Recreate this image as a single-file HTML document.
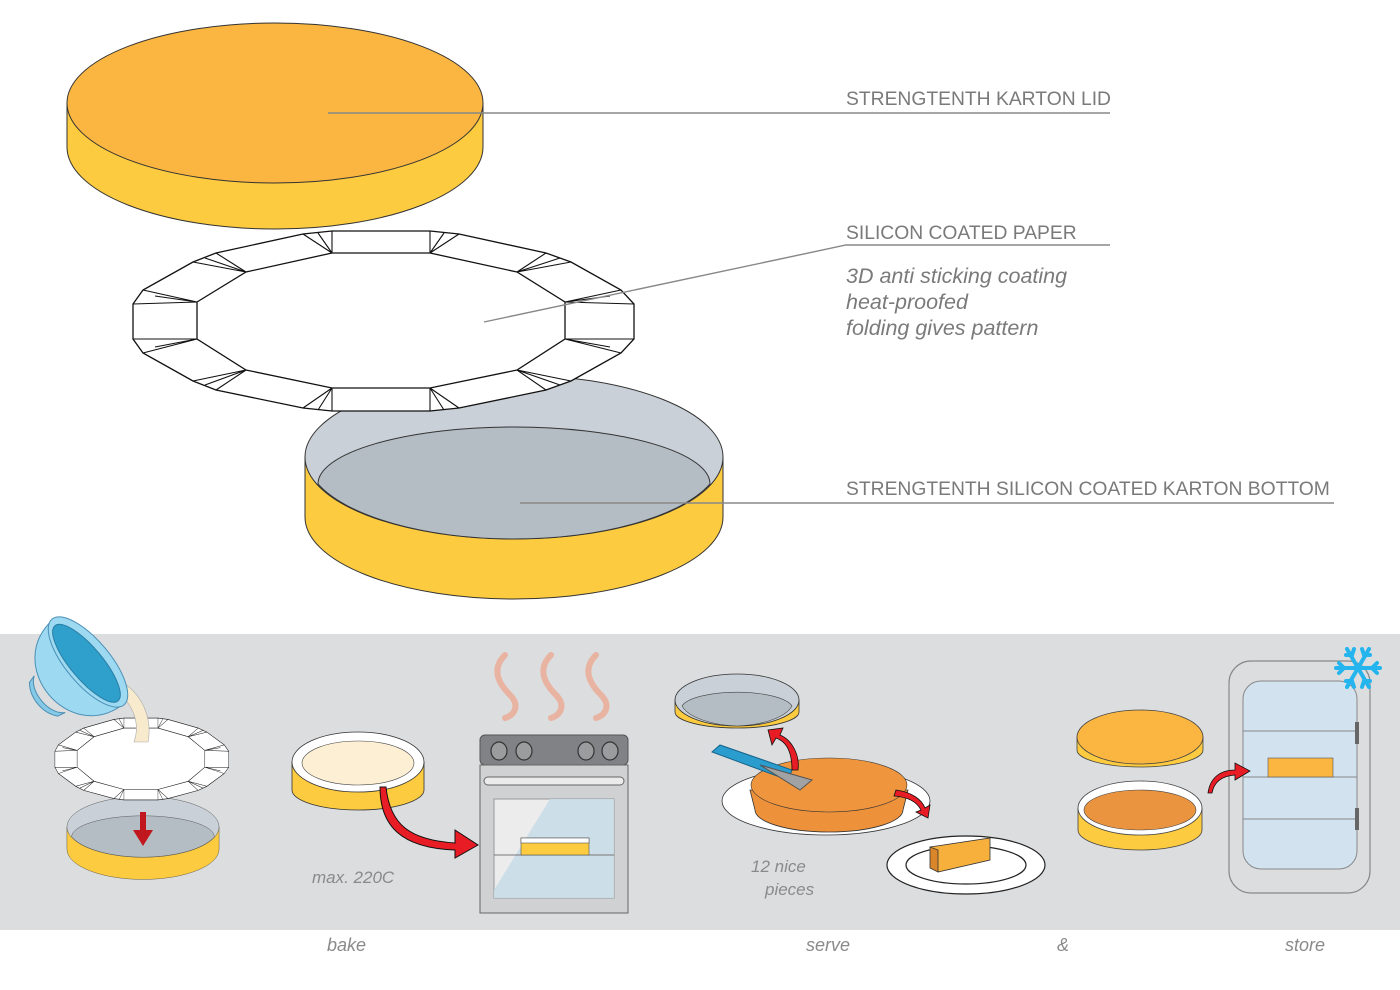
<!DOCTYPE html>
<html><head><meta charset="utf-8"><style>
html,body{margin:0;padding:0;background:#fff;}
svg{display:block;}
text{font-family:"Liberation Sans",sans-serif;}
</style></head><body>
<svg width="1400" height="990" viewBox="0 0 1400 990" xmlns="http://www.w3.org/2000/svg">
<defs>
<g id="paper">
<polygon points="133,304 143,290 193,262 216,253 303,234 332,231 430,231 459,234 546,253 571,262 621,290 634,304 634,339 621,353 571,381 546,390 459,408 430,411 332,411 303,408 216,390 193,381 143,353 133,339" fill="#fff" stroke="#111" stroke-width="1.3"/>
<polygon points="197,302 246,272 332,253 430,253 517,272 565,302 565,339 517,370 430,388 332,388 246,370 197,339" fill="#fff" stroke="#111" stroke-width="1.3"/>
<g stroke="#111" stroke-width="1.1" fill="none">
<path d="M133,304 L197,302 M133,339 L197,339 M634,304 L565,302 M634,339 L565,339 M332,231 L332,253 M430,231 L430,253 M332,411 L332,388 M430,411 L430,388"/>
<path d="M143,290 L197,302 M155,296 L197,302 M143,353 L197,339 M155,347 L197,339 M621,290 L565,302 M610,296 L565,302 M621,353 L565,339 M610,347 L565,339"/>
<path d="M193,262 L246,272 M205,258 L246,272 M216,253 L246,272 M571,262 L517,272 M560,258 L517,272 M546,253 L517,272 M193,381 L246,370 M205,385 L246,370 M216,390 L246,370 M571,381 L517,370 M560,385 L517,370 M546,390 L517,370"/>
<path d="M303,234 L332,253 M318,233 L332,253 M459,234 L430,253 M444,233 L430,253 M303,408 L332,388 M318,410 L332,388 M459,408 L430,388 M444,410 L430,388"/>
</g>
</g>
<g id="lid">
<path d="M67,103 L67,147 A208,82 0 0 0 483,147 L483,103 Z" fill="#fccb3f" stroke="#333" stroke-width="1"/>
<ellipse cx="275" cy="103" rx="208" ry="80" fill="#fbb641" stroke="#333" stroke-width="1"/>
</g>
<g id="tray">
<path d="M305,457 L305,517 A209,82 0 0 0 723,517 L723,457 Z" fill="#fccb3f" stroke="#333" stroke-width="1"/>
<ellipse cx="514" cy="457" rx="209" ry="82" fill="#c9d0d7" stroke="#333" stroke-width="1"/>
<path d="M318,484 A196,57 0 0 1 710,484 A209,82 0 0 1 514,539 A209,82 0 0 1 318,484 Z" fill="#b4bcc4" stroke="#333" stroke-width="1"/>
</g>
</defs>

<use href="#lid"/>
<use href="#tray"/>
<use href="#paper"/>

<g stroke="#888" stroke-width="1.4" fill="none">
<path d="M328,113 L1110,113"/>
<path d="M484,322 L846,245 L1110,245"/>
<path d="M520,503 L1334,503"/>
</g>
<g fill="#7a7a7a" font-size="19.3">
<text x="846" y="105">STRENGTENTH KARTON LID</text>
<text x="846" y="239">SILICON COATED PAPER</text>
<text x="846" y="283" font-style="italic" font-size="21.5">3D anti sticking coating</text>
<text x="846" y="309" font-style="italic" font-size="21.5">heat-proofed</text>
<text x="846" y="335" font-style="italic" font-size="21.5">folding gives pattern</text>
<text x="846" y="495">STRENGTENTH SILICON COATED KARTON BOTTOM</text>
</g>

<rect x="0" y="634" width="1400" height="296" fill="#dcdddf"/>

<!-- step 1 -->
<g transform="translate(143,838) scale(0.364,0.37) translate(-514,-487)"><use href="#tray"/></g>
<g transform="translate(142,759) scale(0.347,0.455) translate(-384,-321)"><use href="#paper"/></g>
<path d="M140,812 L146,812 L146,830 L153,830 L143,846 L133,830 L140,830 Z" fill="#c0181e"/>
<path d="M115,690 C135,705 140,725 134,742 L148,742 C152,722 145,698 125,684 Z" fill="#f8ebcd" stroke="#aaa" stroke-width="0.6"/>
<g transform="translate(88,662) rotate(50)">
<path d="M-55,0 C-52,68 52,68 55,0 Z" fill="#9ed9f2" stroke="#4a90b5" stroke-width="1"/>
<path d="M-24,50 C-16,64 16,64 24,50 L22,58 C10,68 -10,68 -22,58 Z" fill="#86c9e6" stroke="#4a90b5"/>
<ellipse cx="0" cy="0" rx="56" ry="22" fill="#9ed9f2" stroke="#4a90b5"/>
<ellipse cx="0" cy="2" rx="49" ry="16" fill="#2fa0cc" stroke="#2a7ea5"/>
</g>

<!-- step 2 -->
<path d="M292,762 L292,790 A66,20 0 0 0 424,790 L424,762 Z" fill="#fccb3f" stroke="#333" stroke-width="0.8"/>
<ellipse cx="358" cy="762" rx="66" ry="30" fill="#fff" stroke="#333" stroke-width="0.8"/>
<ellipse cx="358" cy="763" rx="56" ry="22" fill="#fdefd3" stroke="#444" stroke-width="0.6"/>
<path d="M386,787 C390,825 410,840 455,843 L455,830 L478,845 L455,858 L455,850 C400,848 380,825 380,787 Z" fill="#e81c24" stroke="#111" stroke-width="1"/>
<text x="312" y="883" font-size="17" font-style="italic" fill="#8a8a8a">max. 220C</text>
<g fill="none" stroke="#e8b3a0" stroke-width="6" stroke-linecap="round">
<path d="M505,655 C490,670 500,685 510,695 C520,705 515,715 505,718"/>
<path d="M551,655 C536,670 546,685 556,695 C566,705 561,715 551,718"/>
<path d="M596,655 C581,670 591,685 601,695 C611,705 606,715 596,718"/>
</g>
<rect x="480" y="735" width="148" height="30" rx="5" fill="#808285" stroke="#555"/>
<rect x="480" y="765" width="148" height="148" fill="#cfd1d3" stroke="#666"/>
<g fill="#9a9c9e" stroke="#333" stroke-width="1.2">
<ellipse cx="499" cy="751" rx="8" ry="9"/><ellipse cx="524" cy="751" rx="8" ry="9"/>
<ellipse cx="586" cy="751" rx="8" ry="9"/><ellipse cx="610" cy="751" rx="8" ry="9"/>
</g>
<rect x="484" y="777" width="140" height="8" rx="4" fill="#ebebeb" stroke="#666"/>
<rect x="494" y="799" width="120" height="99" fill="#ececec" stroke="#999"/>
<polygon points="550,799 614,799 614,898 494,898 494,890" fill="#c9dde8" opacity="0.9"/>
<line x1="494" y1="855" x2="614" y2="855" stroke="#777"/>
<rect x="521" y="838" width="68" height="17" fill="#fccb3f" stroke="#555" stroke-width="0.6"/>
<rect x="521" y="838" width="68" height="5" fill="#fff" stroke="#555" stroke-width="0.6"/>

<!-- step 3 serve -->
<path d="M675,700 L675,712 A62,16 0 0 0 799,712 L799,700 Z" fill="#fccb3f" stroke="#333" stroke-width="0.8"/>
<ellipse cx="737" cy="700" rx="62" ry="26" fill="#c9d0d7" stroke="#333" stroke-width="0.8"/>
<path d="M682,706 A56,17 0 0 1 792,706 A62,26 0 0 1 737,726 A62,26 0 0 1 682,706 Z" fill="#b4bcc4" stroke="#444" stroke-width="0.6"/>
<ellipse cx="826" cy="801" rx="104" ry="34" fill="#fff" stroke="#333" stroke-width="0.8"/>
<path d="M750,790 L755,810 A74,22 0 0 0 903,810 L908,790 Z" fill="#ed913a" stroke="#333" stroke-width="0.8"/>
<ellipse cx="829" cy="785" rx="78" ry="27" fill="#ee953e" stroke="#333" stroke-width="0.6"/>
<polygon points="712,752 720,745 792,770 788,780" fill="#2a9dce" stroke="#16638a"/>
<polygon points="760,765 812,780 800,790" fill="#a0a2a4" stroke="#555"/>
<path d="M798,770 C800,755 792,740 780,735 L783,728 L768,730 L772,745 L776,738 C788,742 792,755 792,770 Z" fill="#e81c24" stroke="#111" stroke-width="0.8"/>
<path d="M896,790 C912,792 922,800 925,808 L930,805 L928,818 L916,812 L921,810 C917,802 908,797 894,796 Z" fill="#e81c24" stroke="#111" stroke-width="0.8"/>
<ellipse cx="966" cy="865" rx="79" ry="29" fill="#fff" stroke="#222" stroke-width="1.2"/>
<ellipse cx="966" cy="865" rx="60" ry="19" fill="#fff" stroke="#222" stroke-width="1.2"/>
<polygon points="930,847 990,838 990,860 938,872" fill="#f6b03b" stroke="#333" stroke-width="0.8"/>
<polygon points="930,847 938,850 938,872 930,868" fill="#d9862a" stroke="#333" stroke-width="0.8"/>
<text x="751" y="872" font-size="17" font-style="italic" fill="#8a8a8a">12 nice</text>
<text x="765" y="895" font-size="17" font-style="italic" fill="#8a8a8a">pieces</text>

<!-- step 4 store -->
<path d="M1077,737 L1077,750 A63,17 0 0 0 1203,750 L1203,737 Z" fill="#fccb3f" stroke="#444" stroke-width="0.8"/>
<ellipse cx="1140" cy="737" rx="63" ry="27" fill="#fbb641" stroke="#444" stroke-width="0.8"/>
<path d="M1078,808 L1078,830 A62,20 0 0 0 1202,830 L1202,808 Z" fill="#fccb3f" stroke="#444" stroke-width="0.8"/>
<ellipse cx="1140" cy="808" rx="62" ry="27" fill="#fff" stroke="#444" stroke-width="0.8"/>
<ellipse cx="1140" cy="810" rx="56" ry="20" fill="#ea9440" stroke="#444" stroke-width="0.6"/>
<rect x="1229" y="661" width="141" height="232" rx="22" fill="#dcdddf" stroke="#888" stroke-width="1.2"/>
<rect x="1243" y="681" width="114" height="188" rx="18" fill="#d2e3ef" stroke="#888"/>
<g stroke="#888"><line x1="1243" y1="731" x2="1357" y2="731"/><line x1="1243" y1="777" x2="1357" y2="777"/><line x1="1243" y1="819" x2="1357" y2="819"/></g>
<rect x="1355" y="722" width="4" height="22" fill="#666"/><rect x="1355" y="808" width="4" height="22" fill="#666"/>
<rect x="1268" y="758" width="65" height="19" fill="#fbb641" stroke="#555" stroke-width="0.6"/>
<path d="M1208,793 C1210,778 1220,770 1235,770 L1235,763 L1250,771 L1235,780 L1235,775 C1222,776 1214,782 1212,793 Z" fill="#e81c24" stroke="#111" stroke-width="0.8"/>
<g stroke="#25b5ee" stroke-width="4" stroke-linecap="round" fill="none" transform="translate(1358,668)">
<line x1="-22" y1="0" x2="22" y2="0"/><line x1="-11" y1="-19" x2="11" y2="19"/><line x1="11" y1="-19" x2="-11" y2="19"/>
<path d="M-19,-5 L-14,0 L-19,5 M19,-5 L14,0 L19,5 M-4,-19 L-6,-13 L-12,-13 M4,19 L6,13 L12,13 M4,-19 L6,-13 L12,-13 M-4,19 L-6,13 L-12,13"/>
</g>

<g fill="#8a8a8a" font-size="18" font-style="italic">
<text x="327" y="951">bake</text>
<text x="806" y="951">serve</text>
<text x="1057" y="951">&amp;</text>
<text x="1285" y="951">store</text>
</g>
</svg>
</body></html>
